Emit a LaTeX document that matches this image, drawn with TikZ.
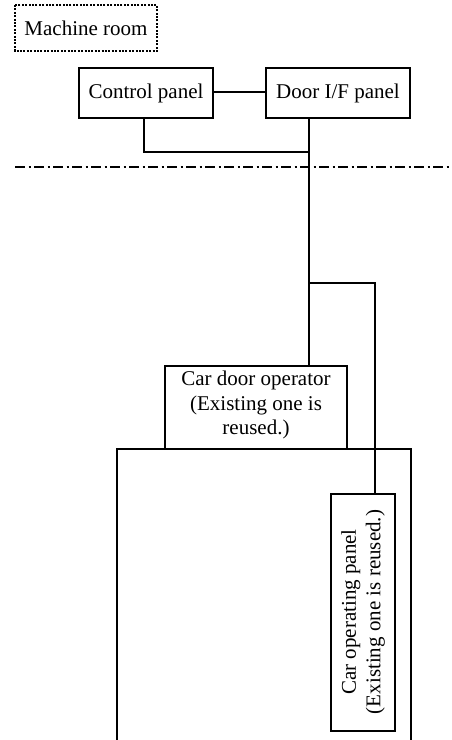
\documentclass[tikz,border=0pt]{standalone}
\usepackage{fontspec}
\setmainfont{Liberation Serif}
\begin{document}
\begin{tikzpicture}[x=1pt,y=-1pt,
  line width=1.5pt,
  txt/.style={font=\fontsize{21}{24.5}\selectfont, align=center, inner sep=0pt},
  wire/.style={line width=1.5pt},
  dashdot/.style={line width=1.5pt, dash pattern=on 10pt off 3.5pt on 2pt off 3.5pt},
  dottedbox/.style={draw, line width=2pt, dash pattern=on 2pt off 1.4pt}
]
\useasboundingbox (0,0) rectangle (451,740);

% Machine room label
\draw[dottedbox] (15,5) rectangle (157,51);
\node[txt] (mroom) at (86,28) {Machine room};

% Control panel
\draw (79,68) rectangle (213,118);
\node[txt] (cp) at (146,93) {Control panel};
\coordinate (cpR) at (213,92);
\coordinate (cpB) at (144,118);

% Door I/F panel
\draw (266,68) rectangle (410,118);
\node[txt] (dif) at (338,93) {Door I/F panel};
\coordinate (difL) at (266,92);
\coordinate (difB) at (309,118);

% connectors
\draw[wire] (cpR) -- (difL);
\coordinate (j1) at (309,152);
\draw[wire] (cpB) |- (j1);

% dash-dot separation line
\coordinate (dl) at (15,167);
\coordinate (dr) at (451,167);
\draw[dashdot] (dl) -- (dr);

% Car door operator
\draw (165,366) rectangle (347,449);
\node[txt] (cdo) at (256,405) {Car door operator\\(Existing one is\\reused.)};
\coordinate (cdoT) at (309,366);

% Car outline
\coordinate (carBL) at (117,741);
\coordinate (carBR) at (411,741);
\draw (carBL) -- (117,449) -- (411,449) -- (carBR);

% Car operating panel
\draw (331,494) rectangle (395,731);
\node[txt, rotate=90] (cop) at (363,612) {Car operating panel\\(Existing one is reused.)};
\coordinate (copT) at (375,494);

% main vertical wire and branch
\coordinate (j2) at (309,283);
\coordinate (j3) at (375,283);
\draw[wire] (difB) -- (cdoT);
\draw[wire] (j2) -- (j3) -- (copT);
\end{tikzpicture}
\end{document}
